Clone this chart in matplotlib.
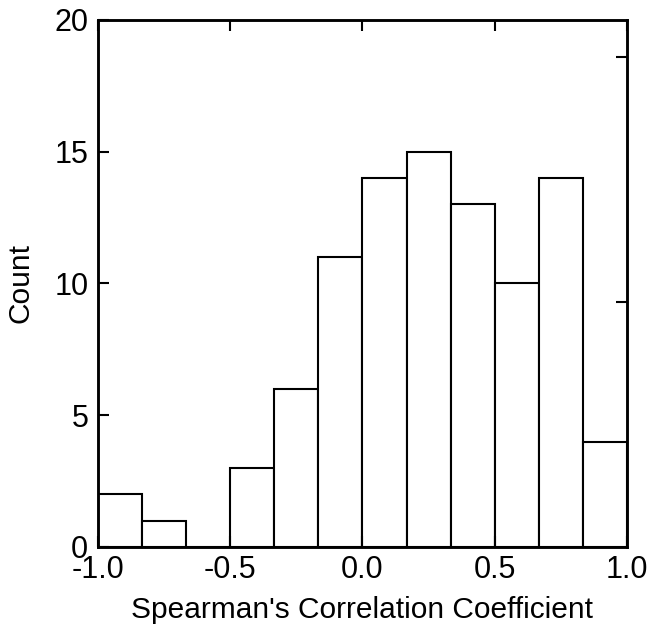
import matplotlib
matplotlib.use("Agg")
import matplotlib.pyplot as plt
import numpy as np

plt.rcParams["font.family"] = ["Liberation Sans", "DejaVu Sans"]

# histogram of Spearman coefficients, 12 bins over [-1, 1]
bin_edges = np.linspace(-1.0, 1.0, 13)
counts = [2, 1, 0, 3, 6, 11, 14, 15, 13, 10, 14, 4]

xticks = [-1.0, -0.5, 0.0, 0.5, 1.0]
yticks = [0, 5, 10, 15, 20]
pct_ticks = [10, 20]

fig = plt.figure(figsize=(6.49, 6.32), dpi=100)
ax = fig.add_axes([0.151, 0.1345, 0.815, 0.834])

widths = np.diff(bin_edges)
ax.bar(bin_edges[:-1], counts, width=widths, align="edge",
       facecolor="white", edgecolor="black", linewidth=1.5)

ax.set_xlim(-1.0, 1.0)
ax.set_ylim(0, 20)
ax.set_xticks(xticks)
ax.set_xticklabels([f"{t:.1f}" for t in xticks])
ax.set_yticks(yticks)

ax.tick_params(axis="both", direction="in", length=8, width=1.5,
               labelsize=22)
ax.tick_params(axis="x", top=True, pad=6)
ax.tick_params(axis="y", pad=7)
for s in ax.spines.values():
    s.set_linewidth(1.8)

ax.set_xlabel("Spearman's Correlation Coefficient", fontsize=21.5, labelpad=8)
ax.set_ylabel("Count", fontsize=21.5, labelpad=14)

# right axis: percent of total, unlabeled inward ticks
total = sum(counts)
ax2 = ax.twinx()
ax2.set_ylim(0, 20 / total * 100)
ax2.set_yticks(pct_ticks)
ax2.tick_params(axis="y", direction="in", length=8, width=1.5,
                labelright=False)
for s in ax2.spines.values():
    s.set_linewidth(1.8)

fig.savefig("out.png", dpi=100)
